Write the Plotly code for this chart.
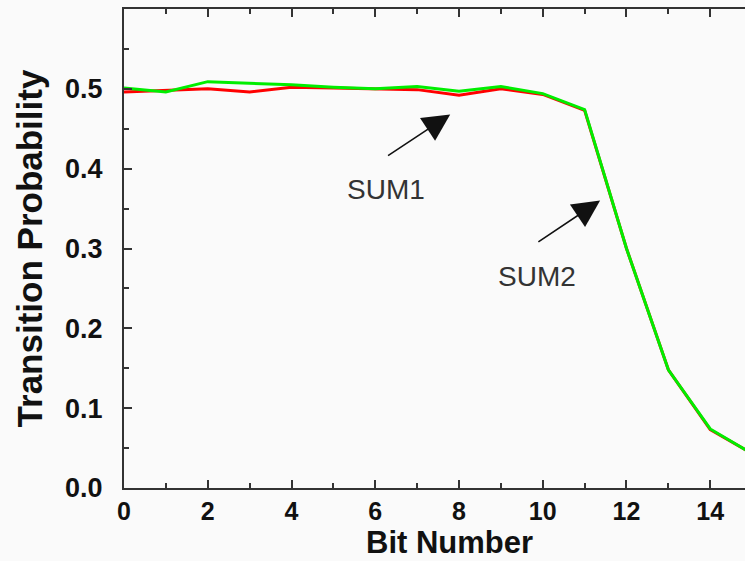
import plotly.graph_objects as go

bits = list(range(16))
sum1 = [0.496, 0.498, 0.500, 0.496, 0.502, 0.501, 0.500, 0.499, 0.492, 0.500,
        0.493, 0.473, 0.300, 0.148, 0.073, 0.043]
sum2 = [0.501, 0.496, 0.509, 0.507, 0.505, 0.502, 0.500, 0.503, 0.497, 0.503,
        0.494, 0.474, 0.300, 0.148, 0.074, 0.043]

y_ticks = [0.0, 0.1, 0.2, 0.3, 0.4, 0.5]
y_ticktext = ["0.0", "0.1", "0.2", "0.3", "0.4", "0.5"]
x_ticks = [0, 2, 4, 6, 8, 10, 12, 14]

FONT = "Liberation Sans, Arial, sans-serif"
BG = "#fafafa"
AX = "#333333"

fig = go.Figure()
fig.add_trace(go.Scatter(x=bits, y=sum1, mode="lines", name="SUM1",
                         line=dict(color="#ff0000", width=3)))
fig.add_trace(go.Scatter(x=bits, y=sum2, mode="lines", name="SUM2",
                         line=dict(color="#00ee00", width=3)))

arrows = [
    dict(label="SUM1", head=(7.79, 0.468), tail=(6.27, 0.415), text=(6.26, 0.374)),
    dict(label="SUM2", head=(11.37, 0.360), tail=(9.86, 0.307), text=(9.87, 0.265)),
]
for a in arrows:
    fig.add_annotation(x=a["head"][0], y=a["head"][1], ax=a["tail"][0], ay=a["tail"][1],
                       xref="x", yref="y", axref="x", ayref="y", text="",
                       showarrow=True, arrowhead=2, arrowsize=3.4, arrowwidth=1.6,
                       arrowcolor="#111111", standoff=0, startstandoff=0)
    fig.add_annotation(x=a["text"][0], y=a["text"][1], xref="x", yref="y",
                       text=a["label"], showarrow=False,
                       font=dict(family=FONT, size=28, color="#333333"))

fig.add_annotation(x=(449.5 - 124) / 621, y=-(543 - 488.3) / 479, xref="paper", yref="paper",
                   text="Bit Number", showarrow=False, yanchor="middle",
                   font=dict(family=FONT, size=31, color="#111111", weight="bold"))

fig.update_layout(
    width=745, height=561,
    margin=dict(l=124, r=0, t=9, b=73, autoexpand=False),
    paper_bgcolor=BG, plot_bgcolor=BG,
    showlegend=False,
    font=dict(family=FONT, color="#111111"),
)
fig.update_xaxes(
    range=[0, 14.83], tickmode="array", tickvals=x_ticks, automargin=False,
    ticks="inside", ticklen=8, tickwidth=2, tickcolor=AX,
    minor=dict(dtick=1, tick0=0, ticks="inside", ticklen=5, tickwidth=2, tickcolor=AX),
    showline=True, linewidth=2, linecolor=AX, mirror="ticks",
    showgrid=False, zeroline=False,
    ticklabelstandoff=0,
    tickfont=dict(family=FONT, size=25, color="#111111", weight="bold"),
)
fig.update_yaxes(
    range=[0, 0.6], tickmode="array", tickvals=y_ticks, ticktext=y_ticktext, automargin=False,
    ticks="inside", ticklen=8, tickwidth=2, tickcolor=AX,
    minor=dict(dtick=0.05, tick0=0, ticks="inside", ticklen=5, tickwidth=2, tickcolor=AX),
    showline=True, linewidth=2, linecolor=AX, mirror=False,
    showgrid=False, zeroline=False,
    ticklabelstandoff=14,
    tickfont=dict(family=FONT, size=27, color="#111111", weight="bold"),
    title=dict(text="Transition Probability", standoff=12,
               font=dict(family=FONT, size=35, color="#111111", weight="bold")),
)

fig.write_html("out.html", config={"displayModeBar": False},
               post_script="document.body.style.margin='0';document.body.style.overflow='hidden';")
